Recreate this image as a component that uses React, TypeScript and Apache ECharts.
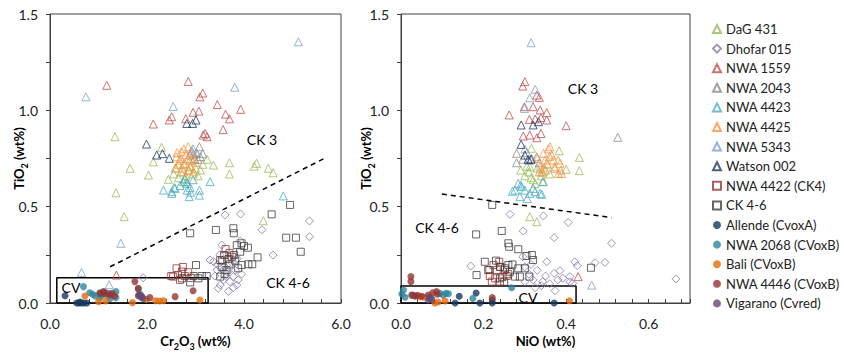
import React, { useEffect, useRef } from "react";
import * as echarts from "echarts";

// ---------- data (left plot: [Cr2O3, TiO2], right plot: [NiO, TiO2]) ----------
const seriesNames = [
  "DaG 431", "Dhofar 015", "NWA 1559", "NWA 2043", "NWA 4423", "NWA 4425", "NWA 5343",
  "Watson 002", "NWA 4422 (CK4)", "CK 4-6", "Allende (CvoxA)", "NWA 2068 (CVoxB)",
  "Bali (CVoxB)", "NWA 4446 (CVoxB)", "Vigarano (Cvred)",
];

const dag431Cr = [[1.34,0.863],[1.65,0.699],[2.03,0.664],[2.30,0.808],[2.13,0.733],[3.70,0.728],[3.70,0.669],[4.26,0.725],[4.21,0.71],[4.50,0.699],[4.60,0.676],[3.37,0.716],[3.24,0.746],[1.36,0.572],[1.53,0.448],[2.44,0.642],[4.40,0.427],[2.60,0.70],[2.70,0.68],[2.75,0.72],[2.80,0.66],[2.85,0.69],[2.90,0.71],[2.95,0.67],[3.00,0.70],[3.05,0.66],[2.65,0.65],[2.78,0.64],[3.10,0.69],[2.88,0.74],[2.55,0.67],[3.15,0.72],[2.82,0.63]];
const dag431Ni = [[0.432,0.756],[0.432,0.687],[0.383,0.79],[0.40,0.694],[0.316,0.803],[0.312,0.707],[0.312,0.448],[0.329,0.422],[0.30,0.66],[0.31,0.68],[0.32,0.64],[0.33,0.70],[0.34,0.66],[0.35,0.69],[0.325,0.62],[0.305,0.71],[0.345,0.63],[0.36,0.67],[0.315,0.65],[0.335,0.68],[0.29,0.69],[0.355,0.72]];

const dhofarCr = [[3.61,0.457],[3.93,0.462],[4.37,0.38],[4.60,0.249],[5.35,0.426],[5.35,0.344],[1.92,0.131],[3.30,0.223],[3.37,0.215],[3.44,0.171],[3.51,0.093],[3.47,0.076],[3.64,0.137],[3.71,0.111],[3.78,0.137],[3.85,0.093],[3.75,0.21],[3.92,0.323],[3.54,0.301],[3.40,0.14],[3.58,0.12],[3.66,0.16],[3.82,0.17],[3.88,0.12],[3.60,0.19],[3.70,0.24],[3.95,0.15],[3.50,0.25],[3.68,0.06],[3.78,0.08],[3.57,0.17],[3.86,0.23],[3.45,0.20]];
const dhofarNi = [[0.169,0.192],[0.264,0.46],[0.296,0.374],[0.345,0.452],[0.405,0.418],[0.371,0.339],[0.51,0.31],[0.353,0.214],[0.421,0.214],[0.427,0.194],[0.47,0.209],[0.494,0.211],[0.371,0.154],[0.385,0.168],[0.392,0.128],[0.409,0.137],[0.409,0.11],[0.416,0.102],[0.343,0.111],[0.666,0.125],[0.373,0.064],[0.30,0.188],[0.295,0.24],[0.31,0.15],[0.32,0.12],[0.33,0.17],[0.34,0.09],[0.35,0.14],[0.36,0.10],[0.325,0.08],[0.315,0.20],[0.38,0.12],[0.30,0.11]];

const nwa1559Cr = [[1.17,1.13],[2.85,1.15],[3.09,1.07],[3.15,1.09],[3.45,1.03],[3.93,1.005],[2.95,0.99],[3.07,0.996],[3.62,0.98],[3.70,0.956],[2.51,0.967],[2.46,0.95],[2.80,0.956],[2.13,0.929],[3.57,0.90],[3.16,0.872],[3.24,0.863],[3.20,0.88],[1.37,0.145]];
const nwa1559Ni = [[0.30,1.149],[0.295,1.126],[0.329,1.079],[0.335,1.067],[0.262,0.976],[0.299,1.019],[0.337,1.002],[0.353,0.988],[0.311,0.953],[0.325,0.955],[0.339,0.962],[0.353,0.95],[0.40,0.92],[0.296,0.867],[0.312,0.872],[0.329,0.858],[0.339,0.88],[0.32,1.019],[0.429,0.137]];

const nwa2043Cr = [[3.08,0.811],[2.89,0.768],[2.96,0.775],[3.02,0.78],[3.10,0.76],[2.92,0.79],[3.05,0.745],[2.98,0.75],[3.15,0.775]];
const nwa2043Ni = [[0.28,0.777],[0.28,0.728],[0.295,0.746],[0.316,0.751],[0.329,0.759],[0.335,0.728],[0.525,0.86],[0.305,0.78]];

const nwa4423Cr = [[2.34,0.586],[2.51,0.578],[2.58,0.595],[2.87,0.552],[3.08,0.56],[3.30,0.63],[2.75,0.63],[2.83,0.621],[2.83,0.586],[2.89,0.60],[3.08,0.586],[2.78,0.647],[2.56,0.60],[2.51,0.569],[2.90,0.575],[4.81,0.556],[2.95,0.64],[2.68,0.61]];
const nwa4423Ni = [[0.284,0.621],[0.292,0.604],[0.276,0.586],[0.30,0.586],[0.312,0.569],[0.325,0.578],[0.337,0.569],[0.288,0.552],[0.306,0.543],[0.27,0.58],[0.343,0.63],[0.341,0.564],[0.29,0.612],[0.32,0.595]];

const nwa4425Cr = [[2.71,0.785],[2.85,0.811],[2.61,0.759],[2.67,0.741],[2.89,0.707],[2.96,0.681],[2.75,0.681],[2.78,0.724],[2.80,0.77],[2.92,0.74],[2.65,0.72],[2.70,0.75],[2.84,0.75],[2.76,0.80],[3.00,0.73],[2.58,0.70],[2.90,0.78],[2.62,0.78],[2.73,0.70],[2.87,0.69]];
const nwa4425Ni = [[0.361,0.811],[0.345,0.777],[0.365,0.768],[0.369,0.742],[0.381,0.742],[0.353,0.725],[0.373,0.699],[0.387,0.69],[0.389,0.673],[0.345,0.70],[0.343,0.68],[0.357,0.80],[0.385,0.725],[0.337,0.707],[0.372,0.707],[0.34,0.68],[0.381,0.673],[0.349,0.742],[0.33,0.75],[0.36,0.76]];

const nwa5343Cr = [[5.12,1.356],[0.74,1.07],[3.81,1.12],[2.54,1.02],[1.46,0.31],[0.65,0.159],[1.22,0.095],[2.95,0.80]];
const nwa5343Ni = [[0.315,1.351],[0.325,1.109],[0.312,1.065],[0.299,1.01],[0.462,0.093],[0.30,0.80],[0.31,0.74]];

const watsonCr = [[2.82,0.932],[2.94,0.932],[3.01,0.95],[1.99,0.825],[2.20,0.768],[2.46,0.751],[2.32,0.775]];
const watsonNi = [[0.291,0.924],[0.32,0.924],[0.333,0.941],[0.291,0.823],[0.30,0.768],[0.308,0.746],[0.315,0.745]];

const nwa4422Cr = [[2.61,0.18],[2.74,0.187],[2.72,0.163],[2.54,0.137],[2.64,0.145],[2.78,0.14],[2.68,0.12],[2.85,0.16],[3.62,0.28],[3.75,0.24],[3.55,0.22],[3.70,0.26],[2.50,0.14],[2.90,0.13]];
const nwa4422Ni = [[0.211,0.171],[0.224,0.197],[0.232,0.171],[0.24,0.187],[0.252,0.171],[0.215,0.14],[0.228,0.128],[0.246,0.135],[0.22,0.111],[0.24,0.111],[0.256,0.14],[0.238,0.214],[0.26,0.15]];

const ck46Cr = [[2.89,0.362],[3.42,0.379],[3.78,0.388],[3.79,0.362],[4.57,0.46],[4.95,0.509],[4.87,0.339],[5.07,0.339],[5.17,0.266],[4.28,0.237],[4.09,0.201],[4.17,0.201],[3.95,0.197],[3.92,0.266],[3.79,0.249],[4.0,0.296],[3.95,0.31],[3.51,0.223],[3.54,0.188],[3.51,0.137],[3.64,0.171],[3.88,0.18],[3.06,0.128],[3.13,0.14],[2.96,0.14],[2.89,0.107],[2.72,0.128],[3.23,0.14],[3.01,0.197],[3.70,0.20],[3.82,0.22],[3.60,0.15],[4.08,0.287],[3.85,0.30],[3.68,0.228],[3.59,0.249]];
const ck46Ni = [[0.221,0.509],[0.182,0.356],[0.244,0.374],[0.26,0.31],[0.262,0.292],[0.284,0.279],[0.304,0.244],[0.317,0.249],[0.32,0.223],[0.203,0.214],[0.183,0.145],[0.214,0.171],[0.24,0.188],[0.252,0.18],[0.26,0.197],[0.264,0.162],[0.276,0.137],[0.284,0.18],[0.30,0.18],[0.24,0.128],[0.288,0.137],[0.311,0.137],[0.46,0.183],[0.25,0.11],[0.27,0.20],[0.23,0.22]];

const allendeCr = [[0.31,0.038],[0.55,0],[0.60,0],[0.65,0],[0.70,0],[0.76,0],[0.62,0.005]];
const allendeNi = [[0.131,0],[0.191,0],[0.221,0],[0.371,0],[0.141,0.035],[0.182,0.052],[0.221,0.016]];

const nwa2068Cr = [[0.69,0.085],[0.82,0.053],[0.93,0.036],[1.03,0.028],[1.03,0.053],[1.07,0.042],[1.20,0.05],[1.36,0.059],[1.36,0.028],[1.24,0.024],[1.82,0.071],[1.86,0.045],[0.88,0.045]];
const nwa2068Ni = [[0.002,0.047],[0.006,0.067],[0.028,0.041],[0.034,0.036],[0.094,0.05],[0.102,0.041],[0.109,0.05],[0.115,0.048],[0.174,0.024],[0.268,0.079],[0.01,0.03]];

const baliCr = [[0.72,0.036],[1.0,0.007],[1.15,0.01],[1.70,0.002],[1.99,0.019],[2.18,0.012],[2.26,0.01],[2.34,0.012],[3.09,0.016],[1.89,0.033]];
const baliNi = [[0.046,0.033],[0.082,0],[0.107,0.01],[0.408,0.012],[0.055,0.03],[0.09,0.005]];

const nwa4446Cr = [[1.03,0.05],[1.12,0.055],[1.15,0.045],[1.24,0.042],[1.33,0.036],[1.75,0.111],[1.82,0.076],[1.82,0.038],[1.89,0.033],[2.06,0.028],[2.58,0.033],[2.95,0.064],[1.10,0.06],[1.28,0.05]];
const nwa4446Ni = [[0.024,0.137],[0.024,0.111],[0.026,0.041],[0.034,0.036],[0.066,0.041],[0.077,0.053],[0.086,0.059],[0.088,0.045],[0.221,0.028],[0.07,0.03],[0.04,0.04],[0.05,0.035]];

const vigaranoCr = [[1.84,0.042],[1.92,0.024],[1.88,0.03]];
const vigaranoNi = [[0.07,0.024],[0.066,0.016],[0.075,0.02]];

// divider lines and CV boxes
const dividerCr = [[1.24,0.188],[5.67,0.752]];
const dividerNi = [[0.099,0.566],[0.51,0.443]];
const cvBoxCr = [[0.14,0],[0.14,0.131],[3.26,0.131],[3.26,0],[0.14,0]];
const cvBoxNi = [[0,0],[0,0.088],[0.424,0.088],[0.424,0],[0,0]];

const xTicksCr = [0, 2, 4, 6];
const xTicksNi = [0, 0.2, 0.4, 0.6];
const yTicks = [0, 0.5, 1.0, 1.5];

const leftData = [dag431Cr, dhofarCr, nwa1559Cr, nwa2043Cr, nwa4423Cr, nwa4425Cr, nwa5343Cr, watsonCr, nwa4422Cr, ck46Cr, allendeCr, nwa2068Cr, baliCr, nwa4446Cr, vigaranoCr];
const rightData = [dag431Ni, dhofarNi, nwa1559Ni, nwa2043Ni, nwa4423Ni, nwa4425Ni, nwa5343Ni, watsonNi, nwa4422Ni, ck46Ni, allendeNi, nwa2068Ni, baliNi, nwa4446Ni, vigaranoNi];

const colors = ["#9BBB59", "#8B78AE", "#C0504D", "#8C8C8C", "#4BACC6", "#F79646", "#7FA0CE", "#1F3864", "#953735", "#404040", "#17375E", "#31859C", "#E46C0A", "#943634", "#604A7B"];
const symbols = ["triangle", "diamond", "triangle", "triangle", "triangle", "triangle", "triangle", "triangle", "rect", "rect", "circle", "circle", "circle", "circle", "circle"];

const FONT = "Lato, 'Open Sans', sans-serif";

export default function App() {
  const ref = useRef<HTMLDivElement>(null);
  useEffect(() => {
    if (!ref.current) return;
    const chart = echarts.init(ref.current, null, { renderer: "svg" });

    const scatter: any[] = [];
    seriesNames.forEach((name, i) => {
      const hollow = symbols[i] !== "circle";
      const size = symbols[i] === "circle" ? 7 : symbols[i] === "rect" ? 7 : 8;
      const itemStyle = hollow
        ? { color: "rgba(255,255,255,0)", borderColor: colors[i], borderWidth: 1 }
        : { color: colors[i], borderWidth: 0 };
      [leftData[i], rightData[i]].forEach((d, g) => {
        scatter.push({
          type: "scatter",
          name,
          xAxisIndex: g,
          yAxisIndex: g,
          data: d,
          symbol: symbols[i],
          symbolSize: size,
          itemStyle,
          z: hollow ? 3 : 4,
        });
      });
    });

    const lineSeries = (data: number[][], g: number, dashed: boolean) => ({
      type: "line",
      name: dashed ? "divider" + g : "cvbox" + g,
      xAxisIndex: g,
      yAxisIndex: g,
      data,
      symbol: "none",
      silent: true,
      clip: false,
      lineStyle: { color: "#000", width: 1.5, type: dashed ? [5, 4] : "solid" },
      z: 2,
    });

    const richName = {
      b: { fontFamily: FONT, fontWeight: "bold", fontSize: 13, color: "#000", lineHeight: 20, verticalAlign: "middle" },
      s: { fontFamily: FONT, fontWeight: "bold", fontSize: 9, color: "#000", lineHeight: 9, verticalAlign: "bottom" },
    };

    const yLabelFmt = (v: number) => (yTicks.some((t) => Math.abs(t - v) < 1e-9) ? v.toFixed(1) : "");
    const makeY = (g: number, gap: number) => ({
      type: "value",
      gridIndex: g,
      min: 0,
      max: 1.5,
      interval: 0.25,
      name: "{b|TiO}{s|2}{b| (wt%)}",
      nameLocation: "middle",
      nameGap: gap,
      nameRotate: 90,
      nameMoveOverlap: false,
      nameTextStyle: { rich: richName },
      axisLine: { show: true, lineStyle: { color: "#404040" } },
      axisTick: { show: true, inside: false, length: 4, lineStyle: { color: "#404040" } },
      splitLine: { show: false },
      axisLabel: { formatter: yLabelFmt, fontFamily: FONT, fontSize: 14, color: "#222", margin: 12 },
    });

    const makeX = (g: number, max: number, interval: number, ticks: number[], nameStr: string) => ({
      type: "value",
      gridIndex: g,
      min: 0,
      max,
      interval,
      name: nameStr,
      nameLocation: "middle",
      nameGap: 26,
      nameTextStyle: { rich: richName },
      axisLine: { show: true, lineStyle: { color: "#404040" } },
      axisTick: { show: true, inside: true, length: 4, lineStyle: { color: "#404040" } },
      minorTick: { show: true, splitNumber: 5, length: 4, lineStyle: { color: "#404040" } },
      splitLine: { show: false },
      axisLabel: {
        fontFamily: FONT, fontSize: 14, color: "#222", margin: 13,
        showMaxLabel: ticks.some((t) => Math.abs(t - max) < 1e-9),
        formatter: (v: number) => (ticks.some((t) => Math.abs(t - v) < 1e-9) ? v.toFixed(1) : ""),
      },
    });

    const txt = (text: string, x: number, y: number) => ({
      type: "text",
      x,
      y,
      silent: true,
      style: { text, fontFamily: FONT, fontSize: 14, fill: "#000", align: "center", verticalAlign: "middle" },
      z: 10,
    });

    chart.setOption({
      animation: false,
      backgroundColor: "#fff",
      grid: [
        { left: 50, top: 14, width: 291, height: 289, show: true, borderColor: "#404040", borderWidth: 1, backgroundColor: "transparent" },
        { left: 401, top: 14, width: 289, height: 289, show: true, borderColor: "#404040", borderWidth: 1, backgroundColor: "transparent" },
      ],
      xAxis: [
        makeX(0, 6, 2, xTicksCr, "{b|Cr}{s|2}{b|O}{s|3}{b| (wt%)}"),
        makeX(1, 0.7, 0.2, xTicksNi, "{b|NiO (wt%)}"),
      ],
      yAxis: [makeY(0, 21), makeY(1, 25)],
      legend: {
        data: seriesNames,
        orient: "vertical",
        left: 707,
        top: 16,
        itemWidth: 8,
        itemHeight: 8,
        itemGap: 3.6,
        textStyle: { fontFamily: FONT, fontSize: 13, color: "#222", lineHeight: 16 },
        selectedMode: false,
      },
      graphic: [
        txt("CK 3", 262, 139),
        txt("CK 4-6", 288, 282),
        txt("CV", 71, 287),
        txt("CK 3", 583, 88),
        txt("CK 4-6", 437, 227),
        txt("CV", 528, 297),
      ],
      series: [
        lineSeries(dividerCr, 0, true),
        lineSeries(dividerNi, 1, true),
        lineSeries(cvBoxCr, 0, false),
        lineSeries(cvBoxNi, 1, false),
        ...scatter,
      ],
    });
    return () => chart.dispose();
  }, []);
  return <div ref={ref} style={{ position: "fixed", left: 0, top: 0, width: 844, height: 357 }} />;
}
